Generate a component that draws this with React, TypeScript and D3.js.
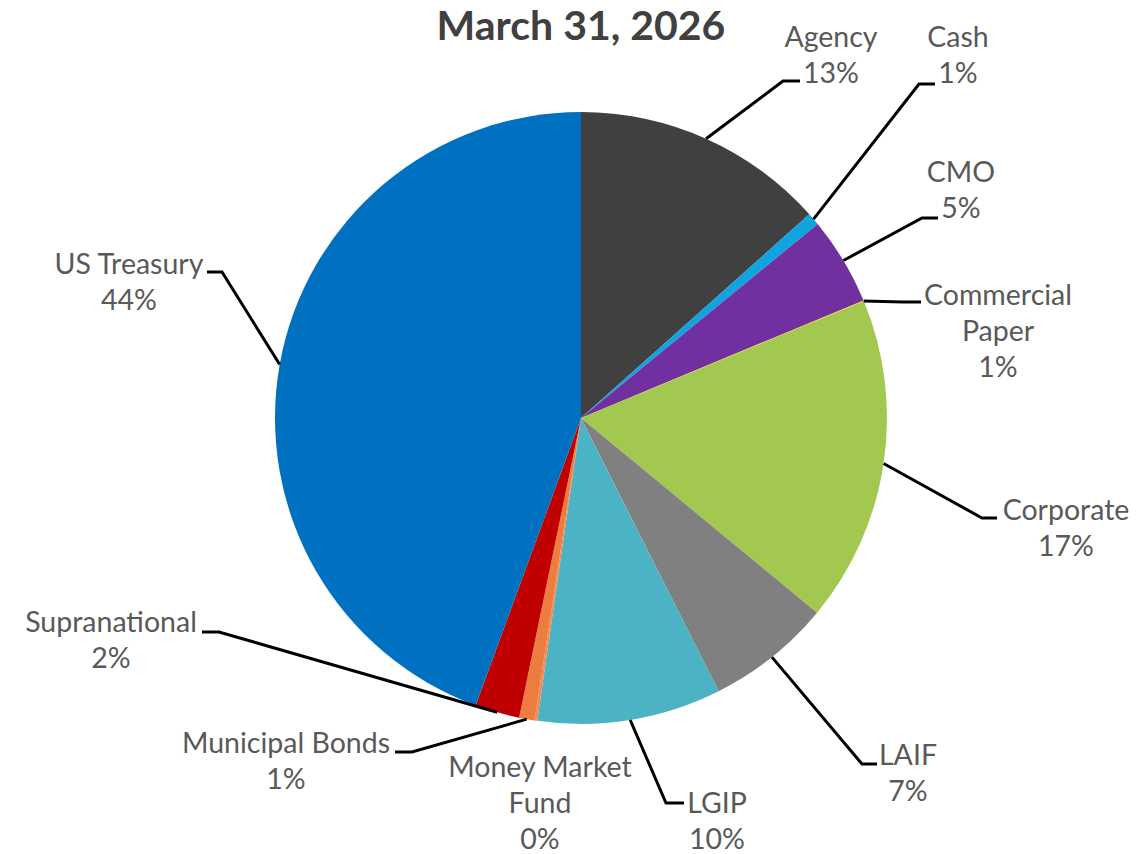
import React from "react";
import * as d3 from "d3";

const title = "March 31, 2026";
const categories = [
  "Agency",
  "Cash",
  "CMO",
  "Commercial Paper",
  "Corporate",
  "LAIF",
  "LGIP",
  "Money Market Fund",
  "Municipal Bonds",
  "Supranational",
  "US Treasury",
];
const values = [13.4, 0.67, 4.65, 0.05, 17.2, 6.6, 9.7, 0.15, 0.81, 2.35, 44.4];
const percentLabels = ["13%", "1%", "5%", "1%", "17%", "7%", "10%", "0%", "1%", "2%", "44%"];

const colors = [
  "#404040",
  "#0FA3E0",
  "#7030A0",
  "#FFC000",
  "#A2C850",
  "#808080",
  "#4BB3C3",
  "#F28C55",
  "#ED7D3E",
  "#C00000",
  "#0070C0",
];

// label layout: text lines, text center x, first line center y, elbow & end of leader
const layout: Record<string, { lines: string[]; cx: number; cy: number; elbow?: [number, number]; end?: [number, number] }> = {
  Agency: { lines: ["Agency"], cx: 831, cy: 37, elbow: [783, 81], end: [800, 81] },
  Cash: { lines: ["Cash"], cx: 958, cy: 37, elbow: [919, 84], end: [935, 84] },
  CMO: { lines: ["CMO"], cx: 961, cy: 172, elbow: [922, 218], end: [938, 218] },
  "Commercial Paper": { lines: ["Commercial", "Paper"], cx: 998, cy: 295, elbow: [903, 302], end: [921, 302] },
  Corporate: { lines: ["Corporate"], cx: 1066, cy: 510, elbow: [982, 518], end: [997, 518] },
  LAIF: { lines: ["LAIF"], cx: 908, cy: 755, elbow: [862, 764], end: [877, 764] },
  LGIP: { lines: ["LGIP"], cx: 717, cy: 803, elbow: [666, 803], end: [684, 803] },
  "Money Market Fund": { lines: ["Money Market", "Fund"], cx: 540, cy: 767 },
  "Municipal Bonds": { lines: ["Municipal Bonds"], cx: 286, cy: 743, elbow: [412, 752], end: [395, 752] },
  Supranational: { lines: ["Supranational"], cx: 111, cy: 622, elbow: [219, 632], end: [202, 632] },
  "US Treasury": { lines: ["US Treasury"], cx: 129, cy: 264, elbow: [222, 272], end: [207, 272] },
};

const W = 1142;
const H = 854;
const CX = 581;
const CY = 418;
const R = 306;
const FONT = "Lato, 'Open Sans', sans-serif";
const FS = 28.5;
const LH = 36;

export default function App() {
  const data = categories.map((c, i) => ({ name: c, value: values[i], pct: percentLabels[i], color: colors[i] }));
  const pie = d3.pie<any>().value((d) => d.value).sort(null);
  const arcs = pie(data);
  const arc = d3.arc<any>().innerRadius(0).outerRadius(R);
  const edge = d3.arc<any>().innerRadius(R).outerRadius(R);
  const line = d3.line();

  return (
    <svg width={W} height={H} style={{ position: "absolute", left: 0, top: 0, background: "#fff" }}>
      <text x={CX} y={40} textAnchor="middle" fontFamily={FONT} fontWeight={700} fontSize={41} fill="#404040">
        {title}
      </text>
      <g transform={`translate(${CX},${CY})`}>
        {arcs.map((a, i) => (
          <path key={i} d={arc(a) as string} fill={a.data.color} />
        ))}
      </g>
      {arcs.map((a, i) => {
        const L = layout[a.data.name];
        if (!L.elbow || !L.end) return null;
        const [ex, ey] = edge.centroid(a);
        const pts: [number, number][] = [[CX + ex, CY + ey], L.elbow, L.end];
        return <path key={"l" + i} d={line(pts) as string} fill="none" stroke="#000" strokeWidth={3} />;
      })}
      {arcs.map((a, i) => {
        const L = layout[a.data.name];
        const lines = [...L.lines, a.data.pct];
        return (
          <text key={"t" + i} textAnchor="middle" fontFamily={FONT} fontSize={FS} fill="#595959">
            {lines.map((s, j) => (
              <tspan key={j} x={L.cx} y={L.cy + j * LH + FS * 0.35}>
                {s}
              </tspan>
            ))}
          </text>
        );
      })}
    </svg>
  );
}
